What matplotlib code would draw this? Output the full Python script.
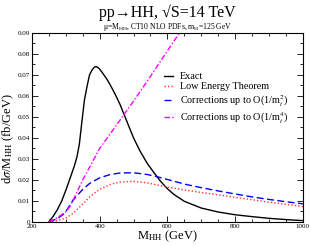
import matplotlib
matplotlib.use("Agg")
import matplotlib.pyplot as plt
import numpy as np
from matplotlib.ticker import MultipleLocator, FuncFormatter

plt.rcParams['font.family'] = ['Liberation Serif', 'DejaVu Serif']
plt.rcParams['mathtext.fontset'] = 'stix'

# Exact
m_exact = [250, 262, 275, 288, 300, 312, 325, 333, 340, 347, 355, 362, 370, 378, 385, 390, 395,
           400, 410, 420, 430, 440, 450, 460, 470, 480, 490, 500, 520, 540, 560, 580, 600,
           620, 650, 700, 750, 800, 850, 900, 950, 1000]
y_exact = [0.0, 0.0025, 0.0058, 0.0100, 0.0150, 0.0205, 0.0265, 0.0310, 0.0370, 0.0470, 0.0580, 0.0640,
           0.0700, 0.0725, 0.0738, 0.0740, 0.0735, 0.0728, 0.0706, 0.0683, 0.0656, 0.0626, 0.0594,
           0.0560, 0.0520, 0.0480, 0.0440, 0.0400, 0.0335, 0.0280, 0.0235, 0.0193, 0.0158,
           0.0130, 0.0098, 0.0066, 0.0047, 0.0034, 0.0025, 0.0017, 0.0011, 0.0006]

# Low energy theorem
m_let = [250, 275, 300, 322, 350, 371, 400, 430, 460, 500, 540, 587, 650, 700, 755, 800, 900, 1000]
y_let = [0.0, 0.0006, 0.0018, 0.0041, 0.0085, 0.0120, 0.0155, 0.0178, 0.0190, 0.0193, 0.0186,
         0.0170, 0.0152, 0.0140, 0.0128, 0.0117, 0.0094, 0.0073]

# Corrections up to O(1/mt^2)
m_mt2 = [250, 275, 297, 322, 350, 371, 400, 430, 460, 500, 540, 568, 600, 656, 700, 755, 800,
         850, 900, 950, 1000]
y_mt2 = [0.0, 0.0015, 0.0041, 0.0105, 0.0155, 0.0184, 0.0210, 0.0225, 0.0233, 0.0234, 0.0226,
         0.0216, 0.0202, 0.0178, 0.0163, 0.0146, 0.0133, 0.0119, 0.0107, 0.0096, 0.0086]

# Corrections up to O(1/mt^4)
m_mt4 = [250, 275, 300, 312, 325, 350, 375, 400, 450, 500, 550, 600, 650]
y_mt4 = [0.0, 0.0020, 0.0048, 0.0073, 0.0115, 0.0200, 0.0275, 0.0350, 0.0462, 0.0575, 0.0693,
         0.0815, 0.0935]

fig = plt.figure(figsize=(3.10, 2.46), dpi=100)
ax = fig.add_axes([0.103, 0.098, 0.874, 0.768])

ax.plot(m_exact, y_exact, color='black', lw=1.0, label='Exact')
ax.plot(m_let, y_let, color='#ff3333', lw=1.0, ls=(0, (1, 1.5)), label='Low Energy Theorem')
ax.plot(m_mt2, y_mt2, color='#0000ff', lw=1.0, ls=(0, (5, 2.5)), label='Corrections up to O(1/m$_t^2$)')
ax.plot(m_mt4, y_mt4, color='#ff00ff', lw=1.0, ls=(0, (4, 1.5, 1, 1.5)), label='Corrections up to O(1/m$_t^4$)')

ax.set_xlim(200, 1000)
ax.set_ylim(0, 0.09)
ax.xaxis.set_major_locator(MultipleLocator(200))
ax.xaxis.set_minor_locator(MultipleLocator(50))
ax.yaxis.set_major_locator(MultipleLocator(0.01))
ax.yaxis.set_minor_locator(MultipleLocator(0.005))
ax.yaxis.set_major_formatter(FuncFormatter(lambda v, p: '0' if abs(v) < 1e-9 else f'{v:.2f}'))
ax.tick_params(which='both', direction='in', top=True, right=True, labelsize=5, pad=1.5)
ax.tick_params(which='major', length=4, width=0.6)
ax.tick_params(which='minor', length=2, width=0.6)
for s in ax.spines.values():
    s.set_linewidth(0.8)

ax.set_xlabel('M$_{\\rm HH}$ (GeV)', fontsize=9, labelpad=0)
ax.set_ylabel('d$\\sigma$/M$_{\\rm HH}$ (fb/GeV)', fontsize=9)
ax.yaxis.set_label_coords(-0.06, 0.44)

fig.text(0.54, 0.95, 'pp→HH, √S=14 TeV', ha='center', va='center', fontsize=11.5)
fig.text(0.54, 0.89, 'μ=M$_{\\rm HH}$, CT10 NLO PDFs, m$_{\\rm H}$=125 GeV', ha='center', va='center',
         fontsize=5.5)

ax.legend(loc='upper left', bbox_to_anchor=(0.47, 0.82), frameon=False, fontsize=7.3,
          handlelength=0.9, handletextpad=0.6, labelspacing=0.12, borderpad=0)

fig.savefig('out.png', dpi=100)
